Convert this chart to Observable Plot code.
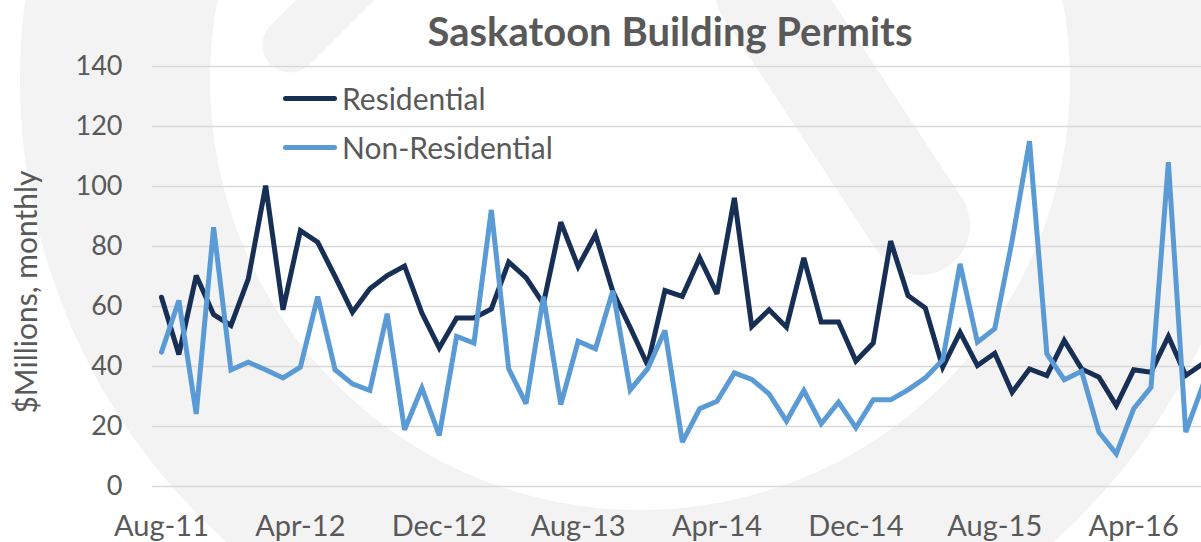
<!DOCTYPE html>
<html>
<head>
<meta charset="utf-8">
<script src="https://cdn.jsdelivr.net/npm/d3@7"></script>
<script src="https://cdn.jsdelivr.net/npm/@observablehq/plot@0.6"></script>
<style>
  html, body { margin: 0; padding: 0; background: #ffffff; }
  body { width: 1201px; height: 542px; overflow: hidden; position: relative; font-family: Lato, "Open Sans", sans-serif; }
  #bg { position: absolute; top: 0; left: 0; }
  #title { position: absolute; top: 7px; left: 670px; transform: translateX(-50%); font-size: 40px; line-height: 48px; font-weight: bold; color: #595959; white-space: nowrap; }
  #chart { position: absolute; top: 50px; left: 0; }
  #ylabel { position: absolute; left: 25px; top: 292px; transform: translate(-50%, -50%) rotate(-90deg); font-size: 30px; color: #595959; white-space: nowrap; }
  .legend { position: absolute; left: 283px; font-size: 30px; line-height: 36px; color: #595959; display: flex; align-items: center; white-space: nowrap; }
  .legend .sw { width: 54px; height: 5px; border-radius: 3px; margin-right: 5px; }
</style>
</head>
<body>
<svg id="bg" width="1201" height="542">
  <circle cx="640" cy="80" r="525" fill="none" stroke="#f4f3f4" stroke-width="190"></circle>
  <line x1="765" y1="-10" x2="920" y2="225" stroke="#f4f3f4" stroke-width="100" stroke-linecap="round"></line>
  <line x1="290" y1="45" x2="355" y2="-20" stroke="#f4f3f4" stroke-width="55" stroke-linecap="round"></line>
</svg>
<div id="title">Saskatoon Building Permits</div>
<div id="chart"></div>
<div id="ylabel">$Millions, monthly</div>
<div id="legend"></div>
<script>
// Monthly values, Aug-11 .. Aug-16 ($ millions)
const residential = [63.1,44,70.3,57.3,53.7,69.2,100.3,58.9,85.3,81.4,70,58.1,65.9,70.3,73.5,57.8,46.2,56.2,56.2,59.2,74.8,69.6,60.9,88.1,73.3,84,65,53,40.5,65.3,63.4,76.2,64.2,96.2,53.3,58.9,53.1,76.2,54.8,54.8,41.8,47.8,81.8,63.7,59.5,39.8,51.4,40.3,44.4,31.4,39.2,37,48.7,39.2,36.4,27,38.9,38.1,50,37,41];
const nonResidential = [44.8,62,24.2,86.4,38.9,41.4,38.9,36.2,39.8,63.3,38.9,34.2,32,57.6,18.9,32.9,17,50,47.8,92.2,39.2,27.6,63.3,27.3,48.4,45.9,65.3,32.2,39.2,52,14.8,25.9,28.4,37.9,35.7,30.9,21.8,32,20.9,28.1,19.6,28.9,28.9,32.2,36.2,42.2,74.2,48.1,52.6,82,115.1,44.2,35.6,38.4,18.1,10.9,25.9,33.1,108.1,18.1,34];
const seriesNames = ["Residential", "Non-Residential"];
const seriesColors = ["#172f55", "#5b9bd5"];
const tickLabels = ["Aug-11","Apr-12","Dec-12","Aug-13","Apr-14","Dec-14","Aug-15","Apr-16"];
const tickMonths = [0, 8, 16, 24, 32, 40, 48, 56];   // month index from Aug-11
const yTicks = [0, 20, 40, 60, 80, 100, 120, 140];

const rows = [
  ...residential.map((v, i) => ({month: i, value: v, series: seriesNames[0]})),
  ...nonResidential.map((v, i) => ({month: i, value: v, series: seriesNames[1]}))
];

const chart = Plot.plot({
  width: 1201,
  height: 492,
  marginLeft: 152,
  marginRight: 0,
  marginTop: 16,
  marginBottom: 56,
  style: {fontFamily: "Lato, 'Open Sans', sans-serif", color: "#595959", background: "transparent", overflow: "visible"},
  x: {type: "linear", domain: [0, 60], range: [161, 1202.6]},
  y: {domain: [0, 140]},
  color: {domain: seriesNames, range: seriesColors},
  marks: [
    Plot.ruleY(yTicks, {stroke: "#d9d9d9", strokeWidth: 1.6}),
    Plot.axisY({ticks: yTicks, tickSize: 0, tickPadding: 30, fontSize: 27, label: null}),
    Plot.axisX({ticks: tickMonths, tickFormat: (d) => tickLabels[tickMonths.indexOf(d)], tickSize: 0, tickPadding: 29, fontSize: 29, label: null}),
    Plot.lineY(rows, {x: "month", y: "value", z: "series", stroke: "series", strokeWidth: 5, strokeLinejoin: "miter", strokeMiterlimit: 3, clip: true})
  ]
});
document.getElementById("chart").appendChild(chart);

const legend = document.getElementById("legend");
const legendTops = [80, 129];
seriesNames.forEach((name, k) => {
  const item = document.createElement("div");
  item.className = "legend";
  item.style.top = legendTops[k] + "px";
  const sw = document.createElement("div");
  sw.className = "sw";
  sw.style.background = seriesColors[k];
  item.appendChild(sw);
  const t = document.createElement("span");
  t.textContent = name;
  item.appendChild(t);
  legend.appendChild(item);
});
</script>
</body>
</html>
